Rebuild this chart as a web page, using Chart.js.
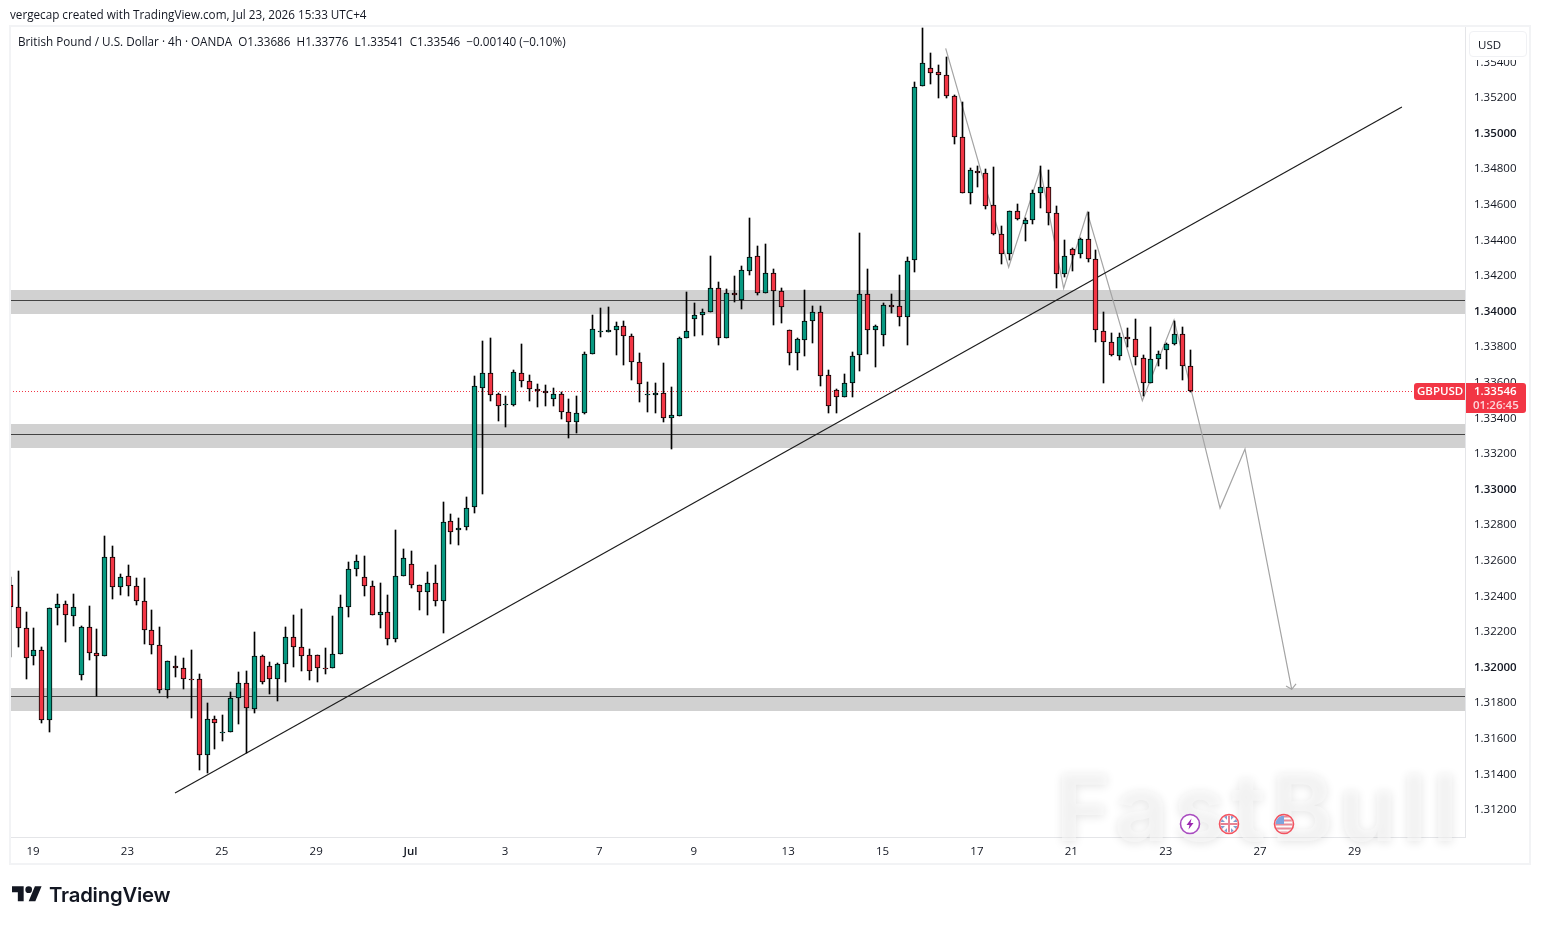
<!DOCTYPE html>
<html lang="en">
<head>
    <meta charset="UTF-8">
    <title>GBPUSD 4h</title>
    <style>
        html, body { margin: 0; padding: 0; background: #fff; overflow: hidden; }
        body { width: 1541px; height: 925px; position: relative; font-family: "Open Sans", sans-serif; color: #131722; }
        canvas { position: absolute; left: 0; top: 0; }
        .abs { position: absolute; white-space: pre; pointer-events: none; }
        #created { left: 10px; top: 7px; font-size: 11.7px; line-height: 15px; }
        #legend { left: 18px; top: 34px; font-size: 11.7px; line-height: 15px; }
        #frame { left: 9px; top: 25px; width: 1518px; height: 836px; border: 2px solid #f2f3f5; }
        #currency { left: 1469px; top: 31px; width: 48px; height: 24px; padding-left: 8px; border: 1px solid #f0f1f4; border-radius: 4px; background: #fff; box-shadow: 0 3px 0 #fff; font-size: 11.5px; line-height: 25px; }
        #brand { left: 49px; top: 881px; font-family: Inter, sans-serif; font-weight: 600; font-size: 20.3px; line-height: 28px; letter-spacing: -0.2px; color: #131722; }
        #logo { left: 12px; top: 883px; }
        #mark { left: 1056px; top: 742px; font-family: Inter, sans-serif; font-weight: 700; font-size: 93px; line-height: 130px; letter-spacing: 5.5px; color: rgba(249,249,249,0.55); text-shadow: 0 2px 10px rgba(0,0,0,0.1); }
        .fade { opacity: 0.85; }
    </style>
</head>
<body>
    <canvas id="priceChart" width="1541" height="925"></canvas>

    <div class="abs" id="mark">FastBull</div>
    <svg class="abs" style="left:1179px;top:813px" width="22" height="22" viewBox="0 0 22 22">
        <circle cx="11" cy="11" r="9.5" fill="#fff" stroke="#a94cc0" stroke-width="1.6"/>
        <path d="M12.5 5.5 7.5 12h3l-1 4.5 5-6.5h-3z" fill="#9c27b0"/>
    </svg>
    <svg class="abs fade" style="left:1218px;top:813px" width="22" height="22" viewBox="0 0 22 22">
        <clipPath id="ukClip"><circle cx="11" cy="11" r="8.5"/></clipPath>
        <g clip-path="url(#ukClip)" opacity="0.7">
            <rect width="22" height="22" fill="#2f5fb3"/>
            <path d="M2 2 20 20M20 2 2 20" stroke="#fff" stroke-width="3"/>
            <path d="M11 2V20M2 11H20" stroke="#fff" stroke-width="4"/>
            <path d="M11 2V20M2 11H20" stroke="#d9304a" stroke-width="2"/>
        </g>
        <circle cx="11" cy="11" r="9.5" fill="none" stroke="#f23645" stroke-width="1.6"/>
    </svg>
    <svg class="abs fade" style="left:1273px;top:813px" width="22" height="22" viewBox="0 0 22 22">
        <clipPath id="usClip"><circle cx="11" cy="11" r="8.5"/></clipPath>
        <g clip-path="url(#usClip)" opacity="0.7">
            <rect width="22" height="22" fill="#fff"/>
            <path d="M0 3.5H22M0 7.5H22M0 11.5H22M0 15.5H22M0 19.5H22" stroke="#e0455a" stroke-width="2"/>
            <rect width="11" height="11" fill="#2f6fd0"/>
        </g>
        <circle cx="11" cy="11" r="9.5" fill="none" stroke="#f23645" stroke-width="1.6"/>
    </svg>

    <div class="abs" id="frame"></div>
    <div class="abs" id="created">vergecap created with TradingView.com, Jul 23, 2026 15:33 UTC+4</div>
    <div class="abs" id="legend">British Pound / U.S. Dollar · 4h · OANDA  O1.33686  H1.33776  L1.33541  C1.33546  −0.00140 (−0.10%)</div>
    <div class="abs" id="currency">USD</div>
    <svg class="abs" id="logo" width="30" height="24" viewBox="0 0 36 28.8" fill="#131722">
        <path d="M14 22H7V11H0V4h14v18zM28 22h-8l7.5-18h8L28 22z"/><circle cx="20" cy="8" r="4"/>
    </svg>
    <div class="abs" id="brand">TradingView</div>

    <script src="https://cdn.jsdelivr.net/npm/chart.js"></script>
    <script>
        // 4h candles, oldest first
        const opens = [1.32456,1.32333,1.32215,1.32061,1.32091,1.31698,1.32327,1.32349,1.32282,1.31951,
            1.32220,1.32074,1.32057,1.32614,1.32445,1.32507,1.32451,1.32366,1.32203,1.32119,
            1.31866,1.32001,1.31990,1.31930,1.31928,1.31501,1.31703,1.31628,1.31630,1.31821,
            1.31906,1.31760,1.32057,1.32001,1.31928,1.32012,1.32164,1.32108,1.32063,1.32063,
            1.31990,1.31990,1.32069,1.32333,1.32546,1.32501,1.32451,1.32288,1.32304,1.32153,
            1.32507,1.32574,1.32456,1.32416,1.32467,1.32366,1.32816,1.32766,1.32782,1.32894,
            1.33566,1.33647,1.33529,1.33467,1.33471,1.33647,1.33602,1.33557,1.33546,1.33501,
            1.33529,1.33428,1.33372,1.33423,1.33754,1.33882,1.33878,1.33889,1.33911,1.33855,
            1.33709,1.33524,1.33524,1.33535,1.33395,1.33406,1.33844,1.33951,1.33973,1.33990,
            1.34125,1.33844,1.34097,1.34057,1.34221,1.34304,1.34097,1.34209,1.34108,1.33889,
            1.33759,1.33833,1.33939,1.33990,1.33636,1.33552,1.33512,1.33591,1.33748,1.34091,
            1.33889,1.33861,1.34029,1.34024,1.33962,1.34282,1.35260,1.35361,1.35338,1.35321,
            1.35204,1.34974,1.34659,1.34782,1.34771,1.34591,1.34428,1.34316,1.34557,1.34485,
            1.34507,1.34659,1.34692,1.34546,1.34204,1.34344,1.34316,1.34400,1.34288,1.33883,
            1.33821,1.33743,1.33850,1.33838,1.33732,1.33591,1.33726,1.33777,1.33810,1.33866,
            1.33686];
        const closes = [1.32333,1.32215,1.32046,1.32091,1.31698,1.32327,1.32349,1.32288,1.32333,1.32220,
            1.32074,1.32057,1.32614,1.32445,1.32501,1.32451,1.32366,1.32203,1.32119,1.31866,
            1.32029,1.31990,1.31928,1.31924,1.31501,1.31703,1.31681,1.31632,1.31821,1.31906,
            1.31765,1.32057,1.31911,1.31928,1.32012,1.32164,1.32108,1.32057,1.31973,1.31990,
            1.31987,1.32069,1.32333,1.32546,1.32591,1.32451,1.32288,1.32304,1.32153,1.32507,
            1.32608,1.32456,1.32416,1.32467,1.32366,1.32810,1.32754,1.32777,1.32889,1.33574,
            1.33647,1.33527,1.33465,1.33473,1.33653,1.33602,1.33557,1.33546,1.33535,1.33529,
            1.33428,1.33372,1.33423,1.33754,1.33894,1.33885,1.33889,1.33911,1.33855,1.33709,
            1.33586,1.33529,1.33535,1.33395,1.33411,1.33844,1.33883,1.33973,1.33990,1.34125,
            1.33844,1.34097,1.34085,1.34226,1.34299,1.34097,1.34209,1.34108,1.34018,1.33760,
            1.33838,1.33939,1.33990,1.33630,1.33462,1.33512,1.33591,1.33743,1.34091,1.33889,
            1.33911,1.34029,1.34021,1.33962,1.34277,1.35254,1.35389,1.35333,1.35321,1.35204,
            1.34974,1.34659,1.34788,1.34771,1.34586,1.34428,1.34316,1.34557,1.34516,1.34507,
            1.34659,1.34692,1.34546,1.34204,1.34304,1.34310,1.34400,1.34288,1.33889,1.33821,
            1.33748,1.33850,1.33838,1.33737,1.33591,1.33726,1.33754,1.33810,1.33866,1.33686,
            1.33546];
        const highs = [1.32503,1.32537,1.32306,1.32216,1.32108,1.32327,1.32407,1.32366,1.32407,1.32226,
            1.32340,1.32210,1.32733,1.32677,1.32518,1.32570,1.32497,1.32497,1.32317,1.32222,
            1.32029,1.32059,1.32048,1.32093,1.31958,1.31795,1.31722,1.31728,1.31857,1.31969,
            1.31975,1.32194,1.32065,1.32024,1.32018,1.32222,1.32289,1.32323,1.32098,1.32063,
            1.32102,1.32283,1.32402,1.32585,1.32626,1.32619,1.32478,1.32469,1.32402,1.32767,
            1.32660,1.32649,1.32456,1.32530,1.32570,1.32924,1.32857,1.32835,1.32951,1.33632,
            1.33829,1.33846,1.33535,1.33520,1.33666,1.33812,1.33638,1.33587,1.33581,1.33565,
            1.33541,1.33503,1.33520,1.33767,1.33975,1.34014,1.34020,1.33933,1.33941,1.33868,
            1.33759,1.33598,1.33593,1.33705,1.33570,1.33853,1.34102,1.34042,1.34008,1.34306,
            1.34159,1.34119,1.34194,1.34250,1.34520,1.34362,1.34374,1.34232,1.34125,1.33889,
            1.33844,1.34115,1.34025,1.34025,1.33666,1.33557,1.33643,1.33765,1.34435,1.34233,
            1.33917,1.34041,1.34093,1.34200,1.34301,1.35284,1.35590,1.35447,1.35378,1.35424,
            1.35209,1.35170,1.34798,1.34811,1.34793,1.34806,1.34474,1.34557,1.34598,1.34520,
            1.34676,1.34811,1.34789,1.34587,1.34396,1.34351,1.34406,1.34552,1.34340,1.33990,
            1.33872,1.33872,1.33902,1.33952,1.33750,1.33907,1.33772,1.33816,1.33941,1.33907,
            1.33776];
        const lows = [1.32055,1.32111,1.31930,1.32008,1.31684,1.31634,1.32233,1.32138,1.32228,1.31924,
            1.32037,1.31833,1.32057,1.32379,1.32402,1.32396,1.32345,1.32126,1.32070,1.31851,
            1.31823,1.31941,1.31874,1.31710,1.31418,1.31400,1.31537,1.31581,1.31630,1.31677,
            1.31512,1.31739,1.31902,1.31846,1.31806,1.31913,1.31997,1.31975,1.31924,1.31915,
            1.31960,1.31990,1.32069,1.32280,1.32509,1.32396,1.32288,1.32216,1.32123,1.32139,
            1.32507,1.32443,1.32317,1.32289,1.32340,1.32188,1.32688,1.32683,1.32769,1.32864,
            1.32969,1.33491,1.33381,1.33347,1.33465,1.33570,1.33491,1.33458,1.33464,1.33464,
            1.33391,1.33284,1.33312,1.33417,1.33754,1.33853,1.33878,1.33750,1.33694,1.33610,
            1.33486,1.33430,1.33424,1.33374,1.33222,1.33406,1.33844,1.33857,1.33862,1.33990,
            1.33806,1.33844,1.34048,1.34008,1.34198,1.34087,1.34097,1.33919,1.33930,1.33694,
            1.33666,1.33744,1.33817,1.33576,1.33426,1.33426,1.33512,1.33516,1.33660,1.33755,
            1.33683,1.33801,1.33986,1.33913,1.33806,1.34218,1.35260,1.35273,1.35194,1.35192,
            1.34935,1.34659,1.34598,1.34694,1.34572,1.34422,1.34261,1.34284,1.34509,1.34391,
            1.34488,1.34574,1.34480,1.34126,1.34190,1.34222,1.34293,1.34274,1.33823,1.33593,
            1.33743,1.33722,1.33793,1.33694,1.33520,1.33591,1.33688,1.33671,1.33805,1.33611,
            1.33541];

        // axis labels
        const timeTickSlots = [3,15,27,39,51,63,75,87,99,111,123,135,147,159,171];
        const timeTickLabels = ['19','23','25','29','Jul','3','7','9','13','15','17','21','23','27','29'];
        const priceTicks = [1.354,1.352,1.350,1.348,1.346,1.344,1.342,1.340,1.338,1.336,1.334,1.332,1.330,1.328,1.326,1.324,1.322,1.320,1.318,1.316,1.314,1.312];
        const roundPrices = [1.350,1.340,1.330,1.320];

        // support / resistance zones
        const zoneTops = [1.34115,1.33362,1.31879];
        const zoneBottoms = [1.33980,1.33230,1.31750];
        const zoneLines = [1.34056,1.33306,1.31834];

        // hand drawn lines, x in candle slots
        const trendSlots = [20.93,176.9];
        const trendPrices = [1.31289,1.35143];
        const pathSlots = [118.9,126.91,130.93,133.9,136.9,143.9,147.93,153.78,156.95,162.89];
        const pathPrices = [1.35473,1.34243,1.34793,1.34125,1.34552,1.33493,1.33947,1.32890,1.33222,1.31872];
        const arrowSlots = [162.17,162.89,163.44];
        const arrowPrices = [1.31890,1.31872,1.31902];

        const lastPrice = 1.33546;
        const countdown = '01:26:45';
        const slotMin = -0.05, slotMax = 184.92;
        const priceMin = 1.31042, priceMax = 1.35593;

        const UP = '#089981', DOWN = '#f23645', AXIS_LINE = '#e4e5e8';
        const FONT = '"Open Sans", sans-serif';

        const zip = (xs, ys) => xs.map((x, i) => ({ x, y: ys[i] }));
        const lineSet = (data, color, order, extra) => Object.assign({
            type: 'line', data, borderColor: color, borderWidth: 1.2, pointRadius: 0, order
        }, extra);

        // snap bars and the dotted price line to whole pixels so they stay crisp
        const snapMarks = {
            id: 'snapMarks',
            afterDatasetsUpdate(chart) {
                chart.data.datasets.forEach((ds, i) => {
                    const marks = chart.getDatasetMeta(i).data;
                    if (ds.type === 'bar') {
                        marks.forEach(bar => {
                            bar.x = Math.floor(bar.x) + 0.5;
                            bar.y = Math.round(bar.y);
                            bar.base = Math.round(bar.base);
                        });
                    } else if (ds.borderDash) {
                        marks.forEach(point => { point.y = Math.floor(point.y) + 0.5; });
                    }
                });
            }
        };

        // grey zones with their centre line, under the candles
        const zones = {
            id: 'zones',
            beforeDatasetsDraw(chart) {
                const { ctx, chartArea: area, scales: { y } } = chart;
                ctx.save();
                zoneTops.forEach((top, i) => {
                    const y0 = Math.round(y.getPixelForValue(top));
                    const y1 = Math.round(y.getPixelForValue(zoneBottoms[i]));
                    ctx.fillStyle = '#d1d1d1';
                    ctx.fillRect(area.left, y0, area.width, y1 - y0);
                    ctx.fillStyle = '#434343';
                    ctx.fillRect(area.left, Math.floor(y.getPixelForValue(zoneLines[i])), area.width, 1);
                });
                ctx.restore();
            }
        };

        // symbol tag and last price tag over the price axis
        const priceTag = {
            id: 'priceTag',
            afterDraw(chart) {
                const { ctx, chartArea: area, scales: { y } } = chart;
                const top = Math.round(y.getPixelForValue(lastPrice)) - 8;
                ctx.save();
                ctx.fillStyle = DOWN;
                ctx.beginPath();
                ctx.roundRect(area.right - 51, top, 51, 17, [3, 0, 0, 3]);
                ctx.fill();
                ctx.beginPath();
                ctx.roundRect(area.right + 1, top, 60, 30, [0, 3, 3, 0]);
                ctx.fill();
                ctx.font = '600 11.5px ' + FONT;
                ctx.textBaseline = 'middle';
                ctx.fillStyle = '#fff';
                ctx.fillText('GBPUSD', area.right - 48, top + 9);
                ctx.fillText(lastPrice.toFixed(5), area.right + 9, top + 9);
                ctx.fillStyle = 'rgba(255,255,255,0.8)';
                ctx.fillText(countdown, area.right + 8, top + 23);
                ctx.restore();
            }
        };

        new Chart(document.getElementById('priceChart'), {
            type: 'bar',
            data: {
                datasets: [
                    {
                        type: 'bar', order: 1, grouped: false, barThickness: 5, borderWidth: 1, borderSkipped: false,
                        borderColor: '#000',
                        backgroundColor: closes.map((c, i) => c < opens[i] ? DOWN : UP),
                        data: opens.map((o, i) => ({ x: i, y: [o, closes[i]] }))
                    },
                    {
                        type: 'bar', order: 2, grouped: false, barThickness: 1, backgroundColor: '#000',
                        data: highs.map((h, i) => ({ x: i, y: [lows[i], h] }))
                    },
                    lineSet(zip(trendSlots, trendPrices), '#1c1c1c', 3),
                    lineSet(zip(pathSlots, pathPrices), '#a4a4a4', 4),
                    lineSet(zip(arrowSlots, arrowPrices), '#a4a4a4', 4),
                    lineSet(zip([slotMin, slotMax], [lastPrice, lastPrice]), DOWN, 5, { borderWidth: 1, borderDash: [1, 2] })
                ]
            },
            options: {
                responsive: false,
                animation: false,
                events: [],
                layout: { padding: { left: 10, right: 10, top: 27, bottom: 61 } },
                plugins: { legend: { display: false }, tooltip: { enabled: false } },
                scales: {
                    x: {
                        type: 'linear', min: slotMin, max: slotMax, offset: false,
                        afterFit(scale) { scale.height = 27; },
                        afterBuildTicks(scale) { scale.ticks = timeTickSlots.map(value => ({ value })); },
                        grid: { display: false },
                        border: { color: AXIS_LINE },
                        ticks: {
                            autoSkip: false, maxRotation: 0, padding: 0, labelOffset: -1, color: '#131722',
                            font: ctx => ({ family: FONT, size: 11.5, weight: ctx.tick && ctx.tick.value === 51 ? '600' : '400' }),
                            callback: (v, i) => timeTickLabels[i]
                        }
                    },
                    y: {
                        position: 'right', min: priceMin, max: priceMax,
                        afterFit(scale) { scale.width = 66; },
                        afterBuildTicks(scale) { scale.ticks = priceTicks.map(value => ({ value })); },
                        grid: { display: false },
                        border: { color: AXIS_LINE },
                        ticks: {
                            autoSkip: false, padding: 1, labelOffset: 1, color: '#131722',
                            font: ctx => ({ family: FONT, size: 11.5, weight: ctx.tick && roundPrices.includes(ctx.tick.value) ? '600' : '400' }),
                            callback: v => v.toFixed(5)
                        }
                    }
                }
            },
            plugins: [snapMarks, zones, priceTag]
        });
    </script>
</body>
</html>
